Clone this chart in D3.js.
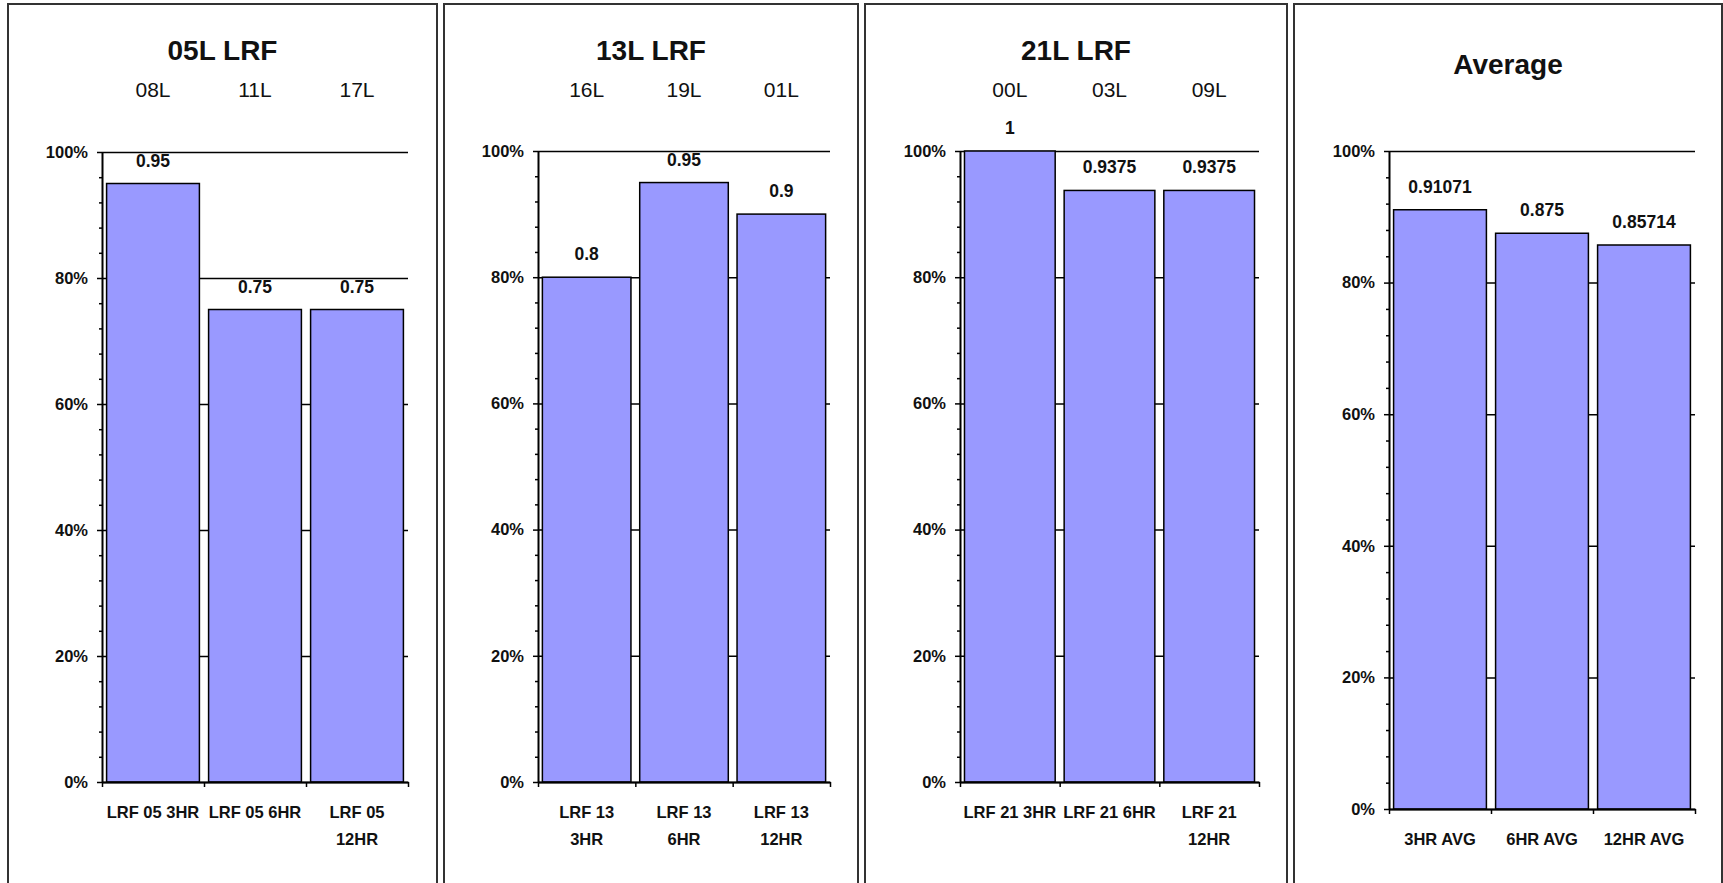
<!DOCTYPE html>
<html>
<head>
<meta charset="utf-8">
<script src="https://cdn.jsdelivr.net/npm/d3@7"></script>
<style>
  html, body { margin: 0; padding: 0; background: #fff; }
  svg { display: block; }
  text { font-family: "Liberation Sans", Arial, sans-serif; fill: #111; }
</style>
</head>
<body>
<svg id="chart" width="1723" height="883"></svg>
<script>
// ---- data ----
const titles = ["05L LRF", "13L LRF", "21L LRF", "Average"];

const cats05 = ["LRF 05 3HR", "LRF 05 6HR", "LRF 05 12HR"];
const vals05 = [0.95, 0.75, 0.75];
const runs05 = ["08L", "11L", "17L"];

const cats13 = ["LRF 13 3HR", "LRF 13 6HR", "LRF 13 12HR"];
const vals13 = [0.8, 0.95, 0.9];
const runs13 = ["16L", "19L", "01L"];

const cats21 = ["LRF 21 3HR", "LRF 21 6HR", "LRF 21 12HR"];
const vals21 = [1, 0.9375, 0.9375];
const runs21 = ["00L", "03L", "09L"];

const catsAvg = ["3HR AVG", "6HR AVG", "12HR AVG"];
const valsAvg = [0.91071, 0.875, 0.85714];
const runsAvg = [];

const majorTicks = [0, 0.2, 0.4, 0.6, 0.8, 1];
const minorTicks = d3.range(0, 1.0001, 0.04).filter(t => Math.abs(t * 5 - Math.round(t * 5)) > 1e-6);

// ---- layout (pixels) ----
const layout = [
  { box: [8, 4, 437],     plot: [102, 408, 152, 782], titleY: 60, runY: 97, wrap: 98 },
  { box: [444, 4, 858],   plot: [538, 830, 151, 782], titleY: 60, runY: 97, wrap: 88 },
  { box: [865, 4, 1287],  plot: [960, 1259, 151, 782], titleY: 60, runY: 97, wrap: 96 },
  { box: [1294, 4, 1722], plot: [1389, 1695, 151, 809], titleY: 74, runY: 0, wrap: 98 }
];

const series = [
  { cats: cats05, vals: vals05, runs: runs05 },
  { cats: cats13, vals: vals13, runs: runs13 },
  { cats: cats21, vals: vals21, runs: runs21 },
  { cats: catsAvg, vals: valsAvg, runs: runsAvg }
];

const svg = d3.select("#chart");
const barFill = "#9999ff";
const ink = "#000";

// measure text width for wrapping
const measurer = svg.append("text").attr("font-weight", "bold").attr("font-size", 16.5).attr("opacity", 0);
function textWidth(s) { measurer.text(s); return measurer.node().getComputedTextLength(); }
function wrapLines(s, maxW) {
  const words = s.split(" ");
  const lines = [];
  let cur = "";
  words.forEach(w => {
    const trial = cur ? cur + " " + w : w;
    if (cur && textWidth(trial) > maxW) { lines.push(cur); cur = w; }
    else cur = trial;
  });
  if (cur) lines.push(cur);
  return lines;
}

series.forEach((s, i) => {
  const L = layout[i];
  const [bx0, by0, bx1] = L.box;
  const [x0, x1, yTop, yBot] = L.plot;
  const g = svg.append("g");

  // panel frame
  g.append("rect")
    .attr("x", bx0).attr("y", by0)
    .attr("width", bx1 - bx0).attr("height", 920)
    .attr("fill", "#fff").attr("stroke", "#333").attr("stroke-width", 2);

  // title
  g.append("text")
    .attr("x", (bx0 + bx1) / 2).attr("y", L.titleY)
    .attr("text-anchor", "middle")
    .attr("font-size", 28).attr("font-weight", "bold")
    .text(titles[i]);

  const x = d3.scaleBand().domain(s.cats).range([x0, x1]).paddingInner(0.09).paddingOuter(0.045);
  const xIdx = d3.scaleLinear().domain([0, s.cats.length]).range([x0, x1]);
  const y = d3.scaleLinear().domain([0, 1]).range([yBot, yTop]);
  const center = c => x(c) + x.bandwidth() / 2;

  // horizontal gridlines
  const grid = g.append("g").attr("transform", `translate(${x0},0)`)
    .call(d3.axisLeft(y).tickValues(majorTicks).tickSize(-(x1 - x0)).tickFormat(""));
  grid.select(".domain").remove();
  grid.selectAll("line").attr("stroke", ink).attr("stroke-width", 1.5);

  // bars
  g.selectAll("rect.bar").data(s.cats).join("rect")
    .attr("class", "bar")
    .attr("x", c => x(c))
    .attr("y", (c, j) => y(s.vals[j]))
    .attr("width", x.bandwidth())
    .attr("height", (c, j) => yBot - y(s.vals[j]))
    .attr("fill", barFill).attr("stroke", ink).attr("stroke-width", 1.5);

  // value labels
  g.selectAll("text.val").data(s.cats).join("text")
    .attr("class", "val")
    .attr("x", c => center(c))
    .attr("y", (c, j) => y(s.vals[j]) - 17)
    .attr("text-anchor", "middle")
    .attr("font-size", 17.5).attr("font-weight", "bold")
    .text((c, j) => String(s.vals[j]));

  // minor y ticks
  const minor = g.append("g").attr("transform", `translate(${x0},0)`)
    .call(d3.axisLeft(y).tickValues(minorTicks).tickSize(3).tickFormat(""));
  minor.select(".domain").remove();
  minor.selectAll("line").attr("stroke", ink).attr("stroke-width", 1.5);

  // major y axis
  const yAxis = g.append("g").attr("transform", `translate(${x0},0)`)
    .call(d3.axisLeft(y).tickValues(majorTicks).tickSize(5).tickSizeOuter(0).tickPadding(9).tickFormat(d3.format(".0%")));
  yAxis.select(".domain").attr("stroke", ink).attr("stroke-width", 2);
  yAxis.selectAll("line").attr("stroke", ink).attr("stroke-width", 1.5);
  yAxis.selectAll("text")
    .attr("font-family", "Liberation Sans, Arial, sans-serif")
    .attr("font-size", 16.5).attr("font-weight", "bold").attr("fill", "#111");

  // x axis with ticks at category boundaries
  const xAxis = g.append("g").attr("transform", `translate(0,${yBot})`)
    .call(d3.axisBottom(xIdx).tickValues(d3.range(0, s.cats.length + 1)).tickSize(5).tickSizeOuter(0).tickFormat(""));
  xAxis.select(".domain").attr("stroke", ink).attr("stroke-width", 2);
  xAxis.selectAll("line").attr("stroke", ink).attr("stroke-width", 1.5);

  // category labels below the axis
  s.cats.forEach(c => {
    const lines = wrapLines(c, L.wrap);
    const t = g.append("text")
      .attr("x", center(c)).attr("y", yBot + 36)
      .attr("text-anchor", "middle")
      .attr("font-size", 16.5).attr("font-weight", "bold");
    lines.forEach((ln, k) => {
      t.append("tspan").attr("x", center(c)).attr("dy", k === 0 ? 0 : 27).text(ln);
    });
  });

  // runway labels above each bar
  g.selectAll("text.run").data(s.runs).join("text")
    .attr("class", "run")
    .attr("x", (r, j) => center(s.cats[j]))
    .attr("y", L.runY)
    .attr("text-anchor", "middle")
    .attr("font-size", 21)
    .text(r => r);
});

measurer.remove();
</script>
</body>
</html>
